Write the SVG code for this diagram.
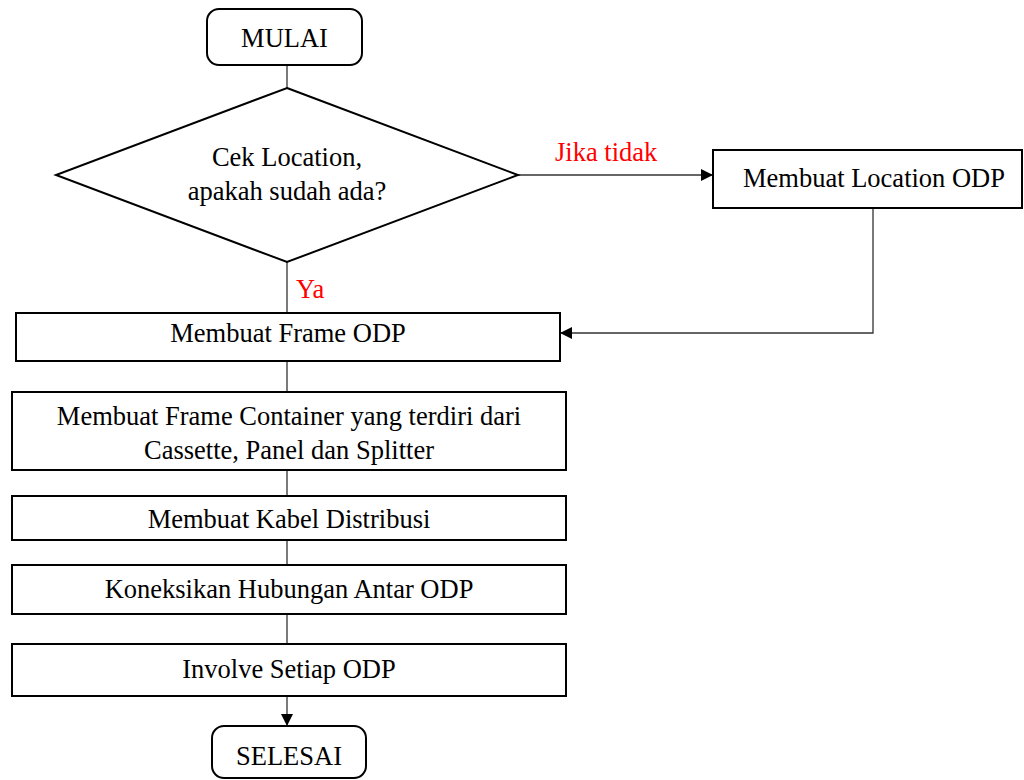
<svg xmlns="http://www.w3.org/2000/svg" width="1024" height="780" viewBox="0 0 1024 780">
<style>
.box{fill:#fff;stroke:#000;stroke-width:2}
.t{font-family:"Liberation Serif","Times New Roman",serif;font-size:26.5px;fill:#000;text-anchor:middle}
.r{font-family:"Liberation Serif","Times New Roman",serif;font-size:26.5px;fill:#ff0000}
.c{fill:none;stroke:#333;stroke-width:1.3}
</style>
<defs>
<marker id="ah" markerWidth="12" markerHeight="12" refX="11" refY="6" orient="auto" markerUnits="userSpaceOnUse">
<path d="M0,0 L12,6 L0,12 Z" fill="#000"/>
</marker>
</defs>
<rect width="1024" height="780" fill="#fff"/>
<g id="connectors">
<line class="c" x1="287" y1="65" x2="287" y2="88"/>
<line class="c" x1="518" y1="175" x2="712" y2="175" marker-end="url(#ah)"/>
<line class="c" x1="287" y1="262" x2="287" y2="313"/>
<polyline class="c" points="873,208 873,333 561,333" marker-end="url(#ah)"/>
<line class="c" x1="287" y1="361" x2="287" y2="392"/>
<line class="c" x1="287" y1="470" x2="287" y2="496"/>
<line class="c" x1="287" y1="540" x2="287" y2="565"/>
<line class="c" x1="287" y1="614" x2="287" y2="644"/>
<line class="c" x1="287" y1="696" x2="287" y2="725" marker-end="url(#ah)"/>
<text class="r" x="555" y="161">Jika tidak</text>
<text class="r" x="296" y="298">Ya</text>
</g>
<g id="mulai">
<rect class="box" x="207" y="9" width="155" height="56" rx="12"/>
<text class="t" x="284.5" y="47">MULAI</text>
</g>
<g id="cek">
<polygon class="box" points="287,88 518,175 287,262 56,175"/>
<text class="t" x="287" y="166">Cek Location,</text>
<text class="t" x="287" y="200">apakah sudah ada?</text>
</g>
<g id="location">
<rect class="box" x="713" y="150" width="309" height="58"/>
<text class="t" x="874" y="187">Membuat Location ODP</text>
</g>
<g id="frame">
<rect class="box" x="16" y="313" width="544" height="48"/>
<text class="t" x="288" y="342">Membuat Frame ODP</text>
</g>
<g id="container">
<rect class="box" x="12" y="392" width="554" height="78"/>
<text class="t" x="289" y="425">Membuat Frame Container yang terdiri dari</text>
<text class="t" x="289" y="459">Cassette, Panel dan Splitter</text>
</g>
<g id="kabel">
<rect class="box" x="12" y="496" width="554" height="44"/>
<text class="t" x="289" y="528">Membuat Kabel Distribusi</text>
</g>
<g id="koneksi">
<rect class="box" x="12" y="565" width="554" height="49"/>
<text class="t" x="289" y="598">Koneksikan Hubungan Antar ODP</text>
</g>
<g id="involve">
<rect class="box" x="12" y="644" width="554" height="52"/>
<text class="t" x="289" y="678">Involve Setiap ODP</text>
</g>
<g id="selesai">
<rect class="box" x="212" y="726" width="154" height="52" rx="12"/>
<text class="t" x="289" y="765">SELESAI</text>
</g>
</svg>
